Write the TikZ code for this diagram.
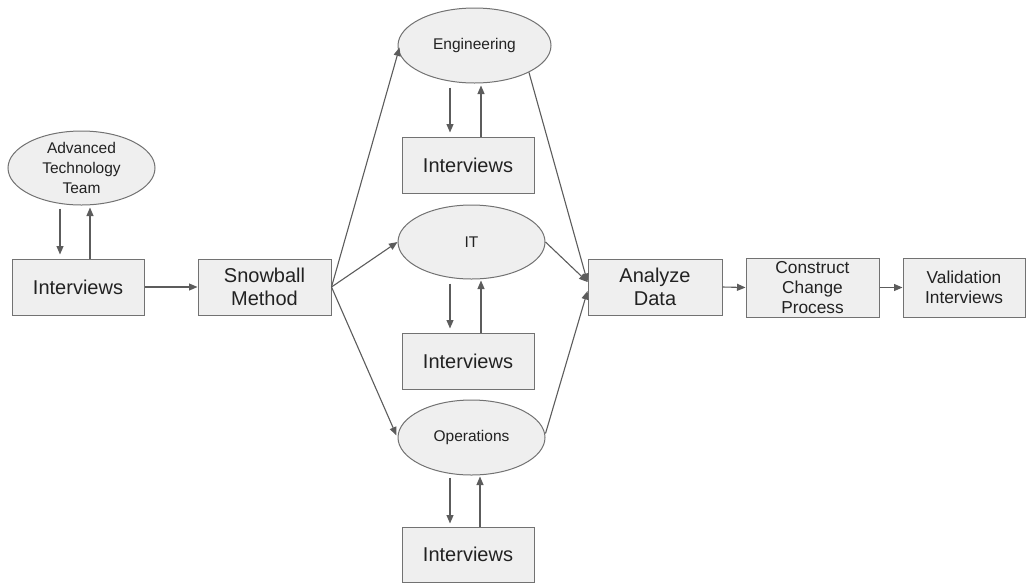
\documentclass[tikz,border=0pt]{standalone}
\usepackage{fontspec}
\setmainfont{Liberation Sans}
\usetikzlibrary{arrows.meta,calc,shapes.geometric}
\definecolor{boxfill}{HTML}{EFEFEF}
\definecolor{boxline}{HTML}{727272}
\definecolor{linkc}{HTML}{5C5C5C}
\definecolor{txt}{HTML}{222222}
\begin{document}
\begin{tikzpicture}[x=1pt,y=-1pt,
  base/.style={draw=boxline,fill=boxfill,line width=1pt,text=txt,align=center,inner sep=0pt},
  bigbox/.style={base,rectangle,font=\fontsize{20}{23.3}\selectfont},
  smallbox/.style={base,rectangle,font=\fontsize{17.3}{20}\selectfont},
  oval/.style={base,ellipse,font=\fontsize{15.5}{19.7}\selectfont},
  arr/.style={draw=linkc,line width=1.1pt,-{Triangle[length=8.5pt,width=7pt]}}]
\useasboundingbox (0,0) rectangle (1028,582);

% left column
\node[oval,minimum width=147,minimum height=74,inner ysep=-4pt] (att) at (81.5,168) {Advanced\\Technology\\Team};
\node[bigbox,minimum width=132,minimum height=56] (iv0) at (78,287) {Interviews};
\node[bigbox,minimum width=133,minimum height=56] (snow) at (264.5,287) {Snowball\\Method};

% the three groups
\node[oval,minimum width=153,minimum height=75] (eng) at (474.5,45.5) {Engineering};
\node[bigbox,minimum width=132,minimum height=56] (iv1) at (468,165) {Interviews};
\node[oval,minimum width=147,minimum height=74] (it) at (471.5,242) {IT};
\node[bigbox,minimum width=132,minimum height=56] (iv2) at (468,361) {Interviews};
\node[oval,minimum width=147,minimum height=75] (ops) at (471.5,437.5) {Operations};
\node[bigbox,minimum width=132,minimum height=55] (iv3) at (468,554.5) {Interviews};

% right chain
\node[bigbox,minimum width=134,minimum height=56] (an) at (655,287) {Analyze\\Data};
\node[smallbox,minimum width=133,minimum height=59] (con) at (812.5,287.5) {Construct\\Change\\Process};
\node[smallbox,minimum width=122,minimum height=59] (val) at (964,287.5) {Validation\\Interviews};

% interview loops
\draw[arr] ($(att.south)+(-21.5,3)$) -- ($(iv0.north)+(-18,-4)$);
\draw[arr] ($(iv0.north)+(12,0)$) -- ($(att.south)+(8.5,2)$);
\draw[arr] ($(eng.south)+(-24.5,4)$) -- ($(iv1.north)+(-18,-4)$);
\draw[arr] ($(iv1.north)+(13,0)$) -- ($(eng.south)+(6.5,2)$);
\draw[arr] ($(it.south)+(-21.5,4)$) -- ($(iv2.north)+(-18,-4)$);
\draw[arr] ($(iv2.north)+(13,0)$) -- ($(it.south)+(9.5,1)$);
\draw[arr] ($(ops.south)+(-21.5,2)$) -- ($(iv3.north)+(-18,-3)$);
\draw[arr] ($(iv3.north)+(12,0)$) -- ($(ops.south)+(8.5,1)$);

% main flow
\draw[arr] (iv0.east) -- (snow.west);
\draw[arr] (snow.east) -- ($(eng.west)+(2,2)$);
\draw[arr] (snow.east) -- (it.west);
\draw[arr] (snow.east) -- ($(ops.west)+(-1,-2)$);
\draw[arr] (eng.south east) -- ($(an.west)+(0,-5)$);
\draw[arr] (it.east) -- ($(an.west)+(0,-5)$);
\draw[arr] ($(ops.east)+(0,-4)$) -- ($(an.west)+(0,4)$);
\draw[arr] (an.east) -- (con.west);
\draw[arr] (con.east) -- (val.west);
\end{tikzpicture}
\end{document}
